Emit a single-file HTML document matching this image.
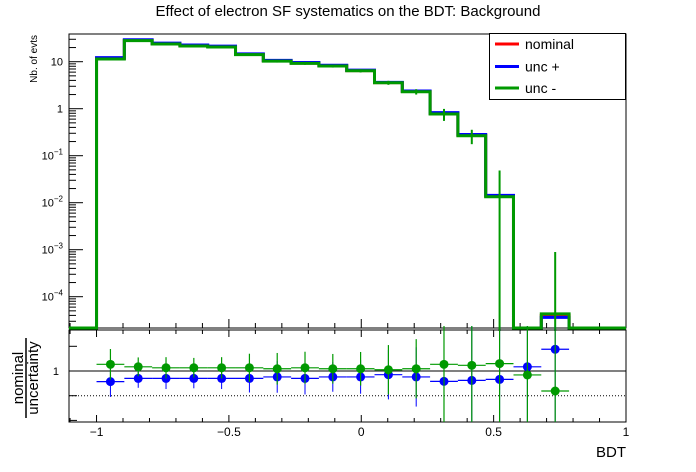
<!DOCTYPE html>
<html><head><meta charset="utf-8"><style>
html,body{margin:0;padding:0;background:#fff;width:696px;height:472px;overflow:hidden;}
svg{display:block;font-family:"Liberation Sans",Arial,sans-serif;}
</style></head><body>
<svg id="c" width="696" height="472" viewBox="0 0 696 472" xmlns="http://www.w3.org/2000/svg">
<rect width="696" height="472" fill="#fff"/>
<text x="348" y="16" text-anchor="middle" font-size="15">Effect of electron SF systematics on the BDT: Background</text>
<g id="topPad"></g><g id="botPad"></g>
</svg>
<script>
const binStart = -1, binWidth = 0.105;
const nominal = [11.7,28.5,24.1,21.9,20.9,14.3,10.4,9.3,8.2,6.46,3.59,2.32,0.79,0.272,0.0138,0,3.95e-5,0,0,0];
const uncUp   = [12.2,29.4,24.8,22.6,21.5,14.7,10.7,9.6,8.4,6.62,3.64,2.38,0.825,0.283,0.0143,0,3.63e-5,0,0,0];
const uncDown = [11.4,28,23.8,21.6,20.6,14.1,10.3,9.2,8.1,6.4,3.57,2.30,0.77,0.266,0.0134,0,4.3e-5,0,0,0];
const statErr = [0.6,1.2,1.1,1.0,1.0,0.8,0.7,0.6,0.6,0.5,0.35,0.3,0.22,0.09,0.035,0,8.5e-4,0,0,0];
const ratioUp   = [0.957,0.970,0.970,0.970,0.970,0.970,0.976,0.970,0.976,0.976,0.985,0.976,0.958,0.962,0.966,1.017,1.088];
const ratioDown = [1.027,1.017,1.013,1.013,1.013,1.013,1.009,1.013,1.009,1.009,1.005,1.009,1.027,1.023,1.030,0.984,0.919];
const ratioErr  = [0.062,0.038,0.043,0.040,0.043,0.057,0.064,0.065,0.060,0.068,0.10,0.12,0.6,0.6,0.6,0.6,0.6];
const xTicks = [-1,-0.5,0,0.5,1];
const xTickLabels = ["\u22121","\u22120.5","0","0.5","1"];
const yDecades = [1,0,-1,-2,-3,-4];

const NS="http://www.w3.org/2000/svg";
const L=69,R=626,T1=34,B1=328,T2=330,B2=422;
const xmin=-1.104,xmax=1.0;
function X(v){return L+(v-xmin)/(xmax-xmin)*(R-L);}
function Y1(v){return 108.7-Math.log10(v)*47;}
function Y2(v){return 371-(v-1)*247;}
function mk(p,tag,a){const e=document.createElementNS(NS,tag);for(const k in a)e.setAttribute(k,a[k]);p.appendChild(e);return e;}
const topG=document.getElementById('topPad'),botG=document.getElementById('botPad');
const svgEl=document.getElementById('c');
const defs=mk(svgEl,'defs',{});
const c1=mk(defs,'clipPath',{id:'c1'});mk(c1,'rect',{x:L,y:T1,width:R-L,height:B1-T1+3});
const c2=mk(defs,'clipPath',{id:'c2'});mk(c2,'rect',{x:L,y:T2-4,width:R-L,height:B2-T2+4});

let fr=mk(topG,'rect',{x:L,y:T1,width:R-L,height:B1-T1,fill:'none',stroke:'#000','stroke-width':1});


yDecades.forEach(d=>{
  const y=Y1(Math.pow(10,d));
  mk(topG,'line',{x1:L,x2:L+14,y1:y,y2:y,stroke:'#000'});
  const t=mk(topG,'text',{x:L-6,y:y+4,'text-anchor':'end','font-size':11});
  
  
  if(d===1)t.textContent='10';else if(d===0)t.textContent='1';
  else{t.textContent='10';const s=mk(t,'tspan',{dy:-5,'font-size':8});s.textContent='\u2212'+(-d);}
  for(let m=2;m<=9;m++){const ym=Y1(m*Math.pow(10,d));if(ym>T1&&ym<B1)mk(topG,'line',{x1:L,x2:L+7,y1:ym,y2:ym,stroke:'#000'});}
});
for(let m=2;m<=9;m++){const ym=Y1(m*1e-5);if(ym>T1&&ym<B1)mk(topG,'line',{x1:L,x2:L+7,y1:ym,y2:ym,stroke:'#000'});}
for(let i=-11;i<=10;i++){const v=i/10;const x=X(v);const maj=(i%5===0);
  mk(topG,'line',{x1:x,x2:x,y1:B1,y2:B1-(maj?9:5),stroke:'#000'});
  mk(botG,'line',{x1:x,x2:x,y1:T2,y2:T2+(maj?7:4),stroke:'#000'});
  mk(botG,'line',{x1:x,x2:x,y1:B2,y2:B2-(maj?7:4),stroke:'#000'});}
const yt=mk(topG,'text',{x:0,y:0,'font-size':10,'text-anchor':'end',transform:'translate(37,35) rotate(-90)'});
yt.textContent='Nb. of evts';



function hist(vals,color,name){
  const floorY=B1;let d='M'+X(binStart-0.104)+','+floorY;let prev=floorY;
  vals.forEach((v,i)=>{const x0=X(binStart+i*binWidth),x1=X(binStart+(i+1)*binWidth);
    const y=v>0?Y1(v):floorY;d+=' L'+x0+','+prev+' L'+x0+','+y+' L'+x1+','+y;prev=y;});
  d+=' L'+R+','+prev;
  const p=mk(topG,'path',{d:d,fill:'none',stroke:color,'stroke-width':3,'clip-path':'url(#c1)'});
  
  
}
hist(nominal,'#ff0000','nominal-hist');
hist(uncUp,'#0000ff','unc-plus-hist');
hist(uncDown,'#009900','unc-minus-hist');
uncDown.forEach((v,i)=>{if(v<=0)return;const x=X(binStart+(i+0.5)*binWidth);
  const lo=v-statErr[i];const e=mk(topG,'line',{x1:x,x2:x,y1:Y1(v+statErr[i]),y2:lo>0?Y1(lo):B1+3,stroke:'#009900','stroke-width':2,'clip-path':'url(#c1)'});
  
  });

const lg=mk(topG,'g',{});


mk(lg,'rect',{x:489.5,y:33.5,width:136,height:66,fill:'#fff',stroke:'#000'});
[['nominal','#ff0000',44],['unc +','#0000ff',66.5],['unc -','#009900',88]].forEach(e=>{
  const g=mk(lg,'g',{});
  
  
  mk(g,'line',{x1:495,x2:519,y1:e[2],y2:e[2],stroke:e[1],'stroke-width':3});
  const t=mk(g,'text',{x:525,y:e[2]+5,'font-size':14});t.textContent=e[0];});

fr=mk(botG,'rect',{x:L,y:T2,width:R-L,height:B2-T2,fill:'none',stroke:'#000'});


mk(botG,'line',{x1:L,x2:R,y1:Y2(1),y2:Y2(1),stroke:'#000'});
mk(botG,'line',{x1:L,x2:R,y1:Y2(0.9),y2:Y2(0.9),stroke:'#000','stroke-dasharray':'1,2'});
[1.1,1,0.9,0.8].forEach(v=>{const y=Y2(v);if(y>T2&&y<B2)mk(botG,'line',{x1:L,x2:L+8,y1:y,y2:y,stroke:'#000'});});
let t1=mk(botG,'text',{x:59,y:375,'text-anchor':'end','font-size':11});t1.textContent='1';


const rt=mk(botG,'g',{transform:'translate(26,378) rotate(-90)'});


let a=mk(rt,'text',{x:0,y:-3,'text-anchor':'middle','font-size':15});a.textContent='nominal';
mk(rt,'line',{x1:-40,x2:40,y1:0,y2:0,stroke:'#000','stroke-width':1.5});
a=mk(rt,'text',{x:0,y:12,'text-anchor':'middle','font-size':15});a.textContent='uncertainty';
xTicks.forEach((v,i)=>{const t=mk(botG,'text',{x:X(v),y:436,'text-anchor':'middle','font-size':12});t.textContent=xTickLabels[i];
  
  });
const xt=mk(botG,'text',{x:626,y:457,'text-anchor':'end','font-size':15});xt.textContent='BDT';



function ratio(vals,color,name,w){
  const g=mk(botG,'g',{'clip-path':'url(#c2)'});
  
  
  vals.forEach((v,i)=>{const x0=X(binStart+i*binWidth),x1=X(binStart+(i+1)*binWidth),xc=(x0+x1)/2,y=Y2(v);
    mk(g,'line',{x1:x0,x2:x1,y1:y,y2:y,stroke:color,'stroke-width':1.2});
    mk(g,'line',{x1:xc,x2:xc,y1:Y2(v+ratioErr[i]),y2:Y2(v-ratioErr[i]),stroke:color,'stroke-width':w});
    const c=mk(g,'circle',{cx:xc,cy:y,r:4.5,fill:color});
    
    });
}
ratio(ratioUp,'#0000ff','ratio-unc-plus',1);
ratio(ratioDown,'#009900','ratio-unc-minus',1.2);
</script>
</body></html>
